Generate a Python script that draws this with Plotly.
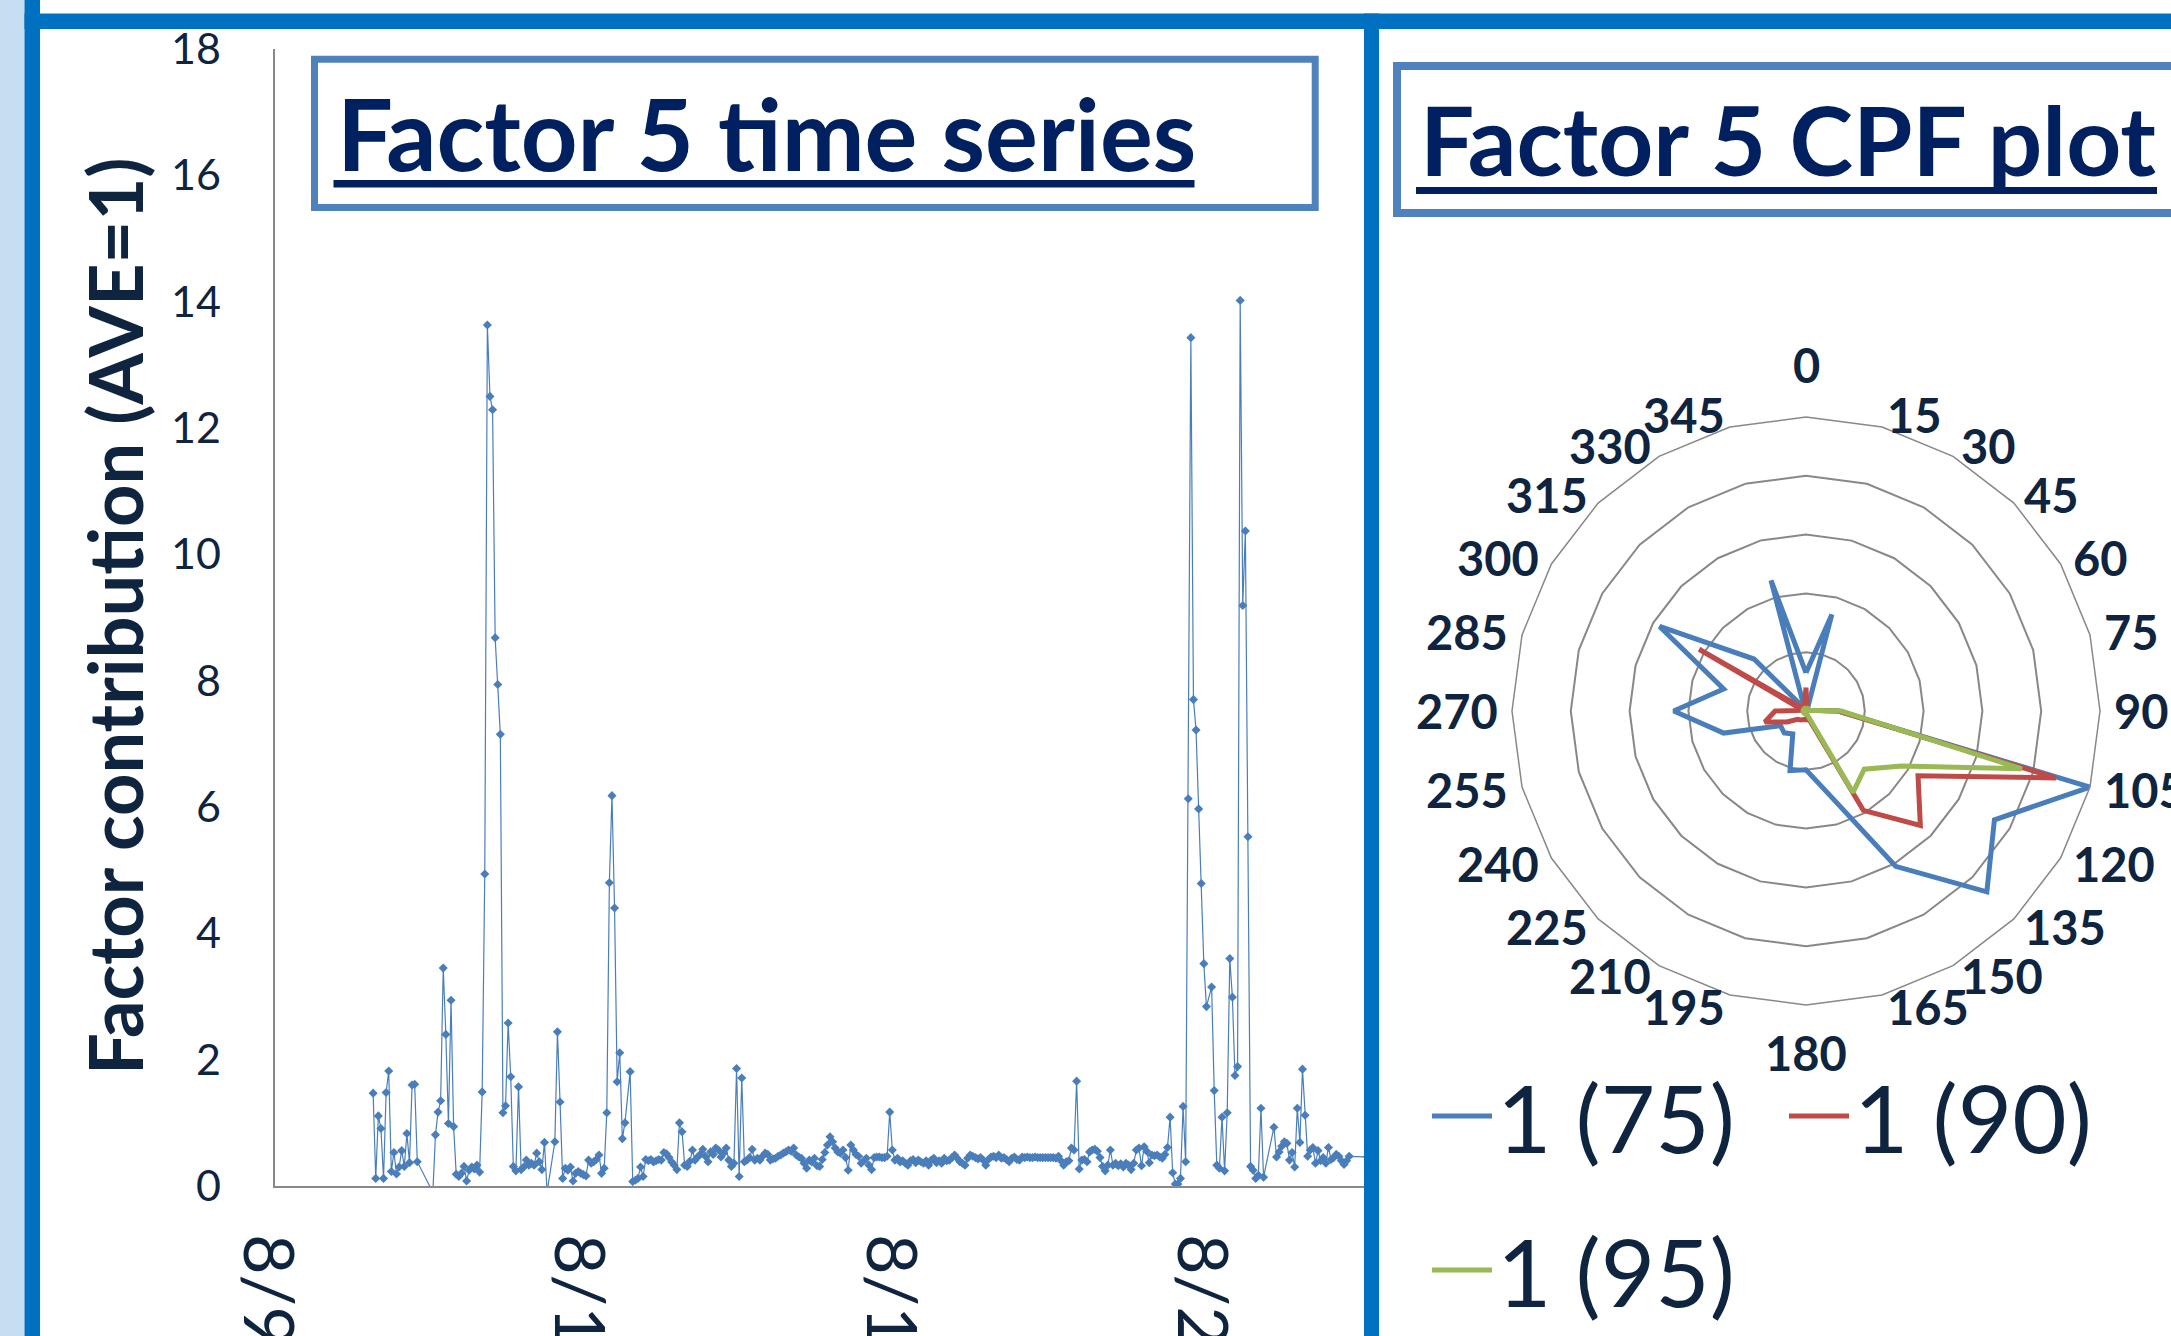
import math
import plotly.graph_objects as go

W, H = 2171, 1336

# ---------------- data ----------------
# x axis: hours since 8/9 00:00, labels every 5 days
tick_hours = [0, 120, 240, 360]
tick_labels = ["8/9/2011", "8/14/2011", "8/19/2011", "8/24/2011"]

first_hour = 38  # first sample: 8/10 14:00
factor5 = [
    1.47, 0.12, 1.11, 0.91, 0.12, 1.48, 1.82, 0.23, 0.53, 0.19,
    0.30, 0.56, 0.31, 0.83, 0.37, 1.60, 1.61, 0.385, None, None,
    None, None, None, -0.1, 0.81, 1.17, 1.35, 3.45, 2.40, 0.99,
    2.94, 0.94, 0.185, 0.15, 0.20, 0.31, 0.08, 0.25, 0.30, 0.27,
    0.33, 0.22, 1.49, 4.94, 13.63, 12.50, 12.29, 8.68, 7.94, 7.15,
    1.16, 1.27, 2.58, 1.73, 0.31, 0.24, 1.57, 0.26, 0.30, 0.41,
    0.33, 0.36, 0.33, 0.52, 0.385, 0.26, 0.69, -0.1, None, None,
    0.70, 2.44, 1.33, 0.12, 0.28, 0.25, 0.30, 0.08, 0.20, 0.23,
    0.20, 0.18, 0.16, 0.41, 0.36, 0.385, 0.42, 0.49, 0.20, 0.28,
    1.16, 4.80, 6.18, 4.40, 1.65, 2.11, 0.75, 1.00, None, 1.81,
    0.07, 0.09, 0.12, 0.30, 0.15, 0.42, 0.40, 0.42, 0.38, 0.40,
    0.42, 0.41, 0.53, 0.51, 0.45, 0.38, 0.33, 0.26, 1.00, 0.86,
    0.33, 0.31, 0.39, 0.57, 0.41, 0.46, 0.50, 0.58, 0.47, 0.385,
    0.54, 0.50, 0.60, 0.57, 0.46, 0.52, 0.60, 0.41, 0.31, 0.36,
    1.86, 0.15, 1.71, 0.385, 0.41, 0.45, 0.58, 0.41, 0.44, 0.41,
    0.47, 0.52, 0.50, 0.41, 0.43, 0.44, 0.47, 0.49, 0.52, 0.54,
    0.57, 0.55, 0.60, 0.49, 0.46, 0.44, 0.36, 0.28, 0.41, 0.38,
    0.44, 0.32, 0.31, 0.42, 0.53, 0.65, 0.78, 0.70, 0.60, 0.54,
    0.52, 0.57, 0.45, 0.25, 0.65, 0.57, 0.50, 0.47, 0.36, 0.40,
    0.44, 0.33, 0.26, 0.45, 0.46, 0.46, 0.45, 0.45, 0.47, 1.17,
    0.57, 0.41, 0.44, 0.38, 0.40, 0.36, 0.33, 0.40, 0.42, 0.37,
    0.41, 0.385, 0.36, 0.40, 0.33, 0.41, 0.44, 0.37, 0.40, 0.36,
    0.44, 0.40, 0.41, 0.45, 0.49, 0.44, 0.385, 0.36, 0.33, 0.44,
    0.49, 0.47, 0.45, 0.43, 0.45, 0.41, 0.33, 0.42, 0.46, 0.47,
    0.45, 0.49, 0.44, 0.45, 0.42, 0.385, 0.44, 0.46, 0.42, 0.41,
    0.46, 0.45, 0.46, 0.45, 0.45, 0.46, 0.45, 0.45, 0.45, 0.45,
    0.45, 0.45, 0.45, 0.44, 0.47, 0.40, 0.33, 0.385, 0.40, 0.60,
    0.57, 1.66, 0.27, 0.41, 0.42, 0.385, 0.54, 0.57, 0.58, 0.55,
    0.45, 0.31, 0.24, 0.33, 0.57, 0.33, 0.36, 0.32, 0.35, 0.30,
    0.36, 0.33, 0.26, 0.36, 0.57, 0.60, 0.32, 0.62, 0.55, 0.37,
    0.49, 0.48, 0.49, 0.46, 0.44, 0.50, 0.61, 1.09, 0.21, 0.03,
    0.03, 0.12, 1.26, 0.385, 6.13, 13.43, 7.70, 7.22, 5.97, 4.79,
    3.52, 2.84, None, 3.15, 1.51, 0.33, 0.28, 1.09, 0.24, 1.16,
    3.60, 2.99, 1.75, 1.89, 14.02, 9.19, 10.37, 5.53, 0.31, 0.25,
    0.12, 0.17, 1.23, 0.14, None, None, None, 0.93, 0.46, 0.54,
    0.63, 0.70, 0.675, 0.41, 0.53, 0.30, 1.23, 0.69, 1.85, 1.12,
    0.47, 0.57, 0.61, 0.36, 0.56, 0.40, 0.45, 0.36, 0.61, 0.42,
    0.45, 0.50, 0.47, 0.40, 0.34, 0.40, 0.47, None, None, None,
    None, None, None, 0.46,
]
hours = [first_hour + i for i in range(len(factor5))]

y_ticks = [0, 2, 4, 6, 8, 10, 12, 14, 16, 18]

directions = [str(d) for d in range(0, 360, 15)]
cpf75 = [0.13, 0.34, 0.01, 0.01, 0.01, 0.01, 0.11, 1.00, 0.74, 0.87, 0.61, 0.29,
         0.20, 0.21, 0.09, 0.105, 0.10, 0.29, 0.45, 0.29, 0.575, 0.25, 0.01, 0.46]
cpf90 = [0.08, 0.01, 0.01, 0.01, 0.01, 0.01, 0.11, 0.88, 0.44, 0.55, 0.39, 0.02,
         0.03, 0.03, 0.035, 0.04, 0.075, 0.145, 0.105, 0.01, 0.42, 0.01, 0.01, 0.02]
cpf95 = [0.01, 0.01, 0.01, 0.01, 0.01, 0.01, 0.12, 0.76, 0.375, 0.28, 0.32, 0.01,
         0.01, 0.01, 0.01, 0.01, 0.01, 0.01, 0.01, 0.01, 0.01, 0.01, 0.01, 0.01]
cpf_names = ["1 (75)", "1 (90)", "1 (95)"]

# ---------------- styling ----------------
FONT = "Lato, 'Open Sans', sans-serif"
NAVY = "#0F243E"
TITLE_NAVY = "#002060"
BLUE_BAR = "#0070C0"
LIGHT = "#C6DEF1"
BOX = "#4F81BD"
AX = "#888888"
COLORS = ["#4A7EBB", "#BE4B48", "#98B954"]

# polar placement (pixels)
PCX, PCY, PR = 1806, 711, 294


def px(x):
    return x / W


def py(y):
    return 1 - y / H


fig = go.Figure()

fig.add_trace(go.Scatter(
    x=hours, y=factor5, mode="lines+markers", connectgaps=True,
    line=dict(color="#4A7EBB", width=1.2),
    marker=dict(symbol="diamond", size=7, color="#4A7EBB"),
    showlegend=False, xaxis="x", yaxis="y", hoverinfo="x+y",
))

legends = ["legend", "legend2", "legend3"]
for vals, name, col, lg in zip([cpf75, cpf90, cpf95], cpf_names, COLORS, legends):
    fig.add_trace(go.Scatterpolar(
        r=vals + vals[:1], theta=directions + directions[:1],
        mode="lines", name=name, line=dict(color=col, width=5),
        subplot="polar", legend=lg,
    ))

legend_common = dict(
    font=dict(family=FONT, size=94, color=NAVY),
    bgcolor="rgba(0,0,0,0)", borderwidth=0, xanchor="left", yanchor="top",
    itemwidth=60, orientation="h",
)

shapes = [
    dict(type="rect", xref="paper", yref="paper", x0=px(0), x1=px(24.5), y0=py(H), y1=py(0),
         fillcolor=LIGHT, line=dict(width=0), layer="above"),
    dict(type="rect", xref="paper", yref="paper", x0=px(24.5), x1=px(40), y0=py(H), y1=py(0),
         fillcolor=BLUE_BAR, line=dict(width=0), layer="above"),
    dict(type="rect", xref="paper", yref="paper", x0=px(24.5), x1=px(W), y0=py(29), y1=py(13.4),
         fillcolor=BLUE_BAR, line=dict(width=0), layer="above"),
    dict(type="rect", xref="paper", yref="paper", x0=px(1364), x1=px(1379), y0=py(H), y1=py(13.4),
         fillcolor=BLUE_BAR, line=dict(width=0), layer="above"),
    # title boxes
    dict(type="rect", xref="paper", yref="paper", x0=px(314.5), x1=px(1315.2), y0=py(207.5), y1=py(59.3),
         line=dict(color=BOX, width=7), fillcolor="rgba(0,0,0,0)", layer="above"),
    dict(type="rect", xref="paper", yref="paper", x0=px(1397), x1=px(2200), y0=py(213), y1=py(66),
         line=dict(color=BOX, width=8), fillcolor="rgba(0,0,0,0)", layer="above"),
    # title underlines
    dict(type="rect", xref="paper", yref="paper", x0=px(333.5), x1=px(1194.5), y0=py(187.5), y1=py(180),
         fillcolor=TITLE_NAVY, line=dict(width=0), layer="above"),
    dict(type="rect", xref="paper", yref="paper", x0=px(1416), x1=px(2157), y0=py(194), y1=py(187),
         fillcolor=TITLE_NAVY, line=dict(width=0), layer="above"),
]

annotations = [
    dict(text="<b>Factor 5 time series</b>", x=px(766.5), y=py(132), xref="paper", yref="paper",
         xanchor="center", yanchor="middle", showarrow=False,
         font=dict(family=FONT, size=99, color=TITLE_NAVY)),
    dict(text="<b>Factor 5 CPF plot</b>", x=px(1787.5), y=py(138), xref="paper", yref="paper",
         xanchor="center", yanchor="middle", showarrow=False,
         font=dict(family=FONT, size=96, color=TITLE_NAVY)),
    dict(text="<b>Factor contribution (AVE=1)</b>", x=px(114), y=py(616), xref="paper", yref="paper",
         xanchor="center", yanchor="middle", showarrow=False, textangle=-90,
         font=dict(family=FONT, size=74, color=NAVY)),
]

# wind-direction labels placed just outside each vertex of the outer ring
GAP = 12
for d in directions:
    a = math.radians(int(d))
    ux, uy = math.sin(a), -math.cos(a)
    if d == "0":
        lx, ly, xa, ya = PCX, PCY - 316, "center", "bottom"
    elif d == "180":
        lx, ly, xa, ya = PCX, PCY + 312, "center", "top"
    else:
        lx = PCX + (PR + GAP) * ux
        ly = PCY + (PR + GAP) * uy
        xa = "left" if ux > 0 else "right"
        ya = "middle"
    annotations.append(dict(
        text="<b>%s</b>" % d, x=px(lx), y=py(ly), xref="paper", yref="paper",
        xanchor=xa, yanchor=ya, showarrow=False,
        font=dict(family=FONT, size=47, color=NAVY)))

fig.update_layout(
    template="none",
    width=W, height=H,
    margin=dict(l=0, r=0, t=0, b=0, autoexpand=False),
    paper_bgcolor="white", plot_bgcolor="white",
    font=dict(family=FONT, color=NAVY),
    xaxis=dict(
        domain=[px(274.5), px(1364)], range=[0, 419.7], anchor="y",
        tickmode="array", tickvals=tick_hours, ticktext=tick_labels, tickangle=90,
        tickfont=dict(family=FONT, size=70, color=NAVY), ticks="",
        ticklabelstandoff=32, ticklabelshift=-8,
        showline=True, linecolor=AX, linewidth=2, showgrid=False, zeroline=False,
        automargin=False,
    ),
    yaxis=dict(
        domain=[py(1186), py(49)], range=[0, 18], anchor="x",
        tickmode="array", tickvals=y_ticks,
        tickfont=dict(family=FONT, size=43, color=NAVY), ticks="", ticklabelstandoff=43,
        showline=True, linecolor=AX, linewidth=2, showgrid=False, zeroline=False,
        automargin=False,
    ),
    polar=dict(
        domain=dict(x=[px(PCX - PR), px(PCX + PR)], y=[py(PCY + PR), py(PCY - PR)]),
        bgcolor="white", gridshape="linear",
        radialaxis=dict(range=[0, 1], tick0=0, dtick=0.2, showticklabels=False, ticks="",
                        showline=False, gridcolor=AX, gridwidth=1.5),
        angularaxis=dict(type="category", categoryarray=directions, rotation=90,
                         direction="clockwise", showgrid=False, showline=True,
                         linecolor=AX, linewidth=1.5, ticks="", showticklabels=False),
    ),
    legend=dict(x=px(1427), y=py(1048.5), **legend_common),
    legend2=dict(x=px(1784), y=py(1048.5), **legend_common),
    legend3=dict(x=px(1427), y=py(1202.5), **legend_common),
    shapes=shapes,
    annotations=annotations,
    showlegend=True,
)

fig.write_html(
    "out.html",
    config={"displayModeBar": False},
    post_script="document.body.style.margin='0px';document.body.style.overflow='hidden';",
)
